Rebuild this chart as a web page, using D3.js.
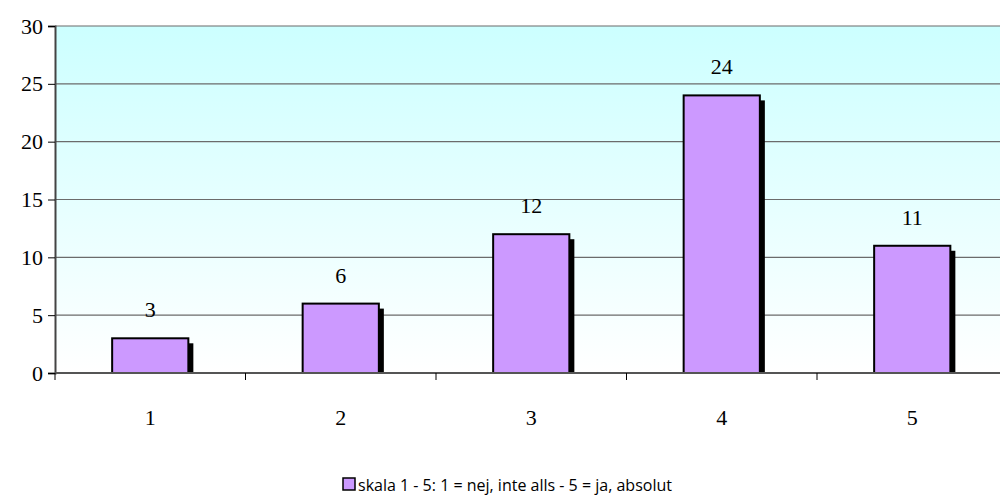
<!DOCTYPE html>
<html>
<head>
<meta charset="utf-8">
<script src="https://cdn.jsdelivr.net/npm/d3@7"></script>
<style>
  body { margin: 0; background: #fff; }
</style>
</head>
<body>
<div id="chart"></div>
<script>
const categories = ["1", "2", "3", "4", "5"];
const values = [3, 6, 12, 24, 11];
const yTicks = [0, 5, 10, 15, 20, 25, 30];
const seriesName = "skala 1 - 5: 1 = nej, inte alls - 5 = ja, absolut";

const width = 1000;
const height = 497;
const margin = { top: 26, right: -7.5, bottom: 124, left: 55 }; // plot runs past the right edge

const serif = "'Liberation Serif', 'DejaVu Serif', 'Times New Roman', serif";

const svg = d3.select("#chart")
  .append("svg")
  .attr("width", width)
  .attr("height", height);

const x = d3.scaleBand()
  .domain(categories)
  .range([margin.left, width - margin.right])
  .paddingInner(0.6)
  .paddingOuter(0.3);

const y = d3.scaleLinear()
  .domain([0, 30])
  .range([height - margin.bottom, margin.top]);

// plot background gradient
const defs = svg.append("defs");
const grad = defs.append("linearGradient")
  .attr("id", "bg")
  .attr("x1", "0%").attr("y1", "0%")
  .attr("x2", "0%").attr("y2", "100%");
grad.append("stop").attr("offset", "0%").attr("stop-color", "#ccffff");
grad.append("stop").attr("offset", "100%").attr("stop-color", "#ffffff");

svg.append("rect")
  .attr("x", margin.left)
  .attr("y", margin.top)
  .attr("width", width - margin.left - margin.right)
  .attr("height", y(0) - margin.top)
  .attr("fill", "url(#bg)");

// gridlines
svg.append("g")
  .selectAll("line")
  .data(yTicks.filter(d => d > 0))
  .enter()
  .append("line")
  .attr("x1", margin.left)
  .attr("x2", width - margin.right)
  .attr("y1", d => y(d))
  .attr("y2", d => y(d))
  .attr("stroke", "#6b6b6b")
  .attr("stroke-width", 1.2);

// shadows
svg.append("g")
  .selectAll("rect")
  .data(values)
  .enter()
  .append("rect")
  .attr("x", (d, i) => x(categories[i]) + 5)
  .attr("y", d => y(d) + 5)
  .attr("width", x.bandwidth())
  .attr("height", d => y(0) - y(d) - 5)
  .attr("fill", "#000");

// bars
svg.append("g")
  .selectAll("rect")
  .data(values)
  .enter()
  .append("rect")
  .attr("x", (d, i) => x(categories[i]))
  .attr("y", d => y(d))
  .attr("width", x.bandwidth())
  .attr("height", d => y(0) - y(d))
  .attr("fill", "#cc99ff")
  .attr("stroke", "#000")
  .attr("stroke-width", 2);

// value labels
svg.append("g")
  .selectAll("text")
  .data(values)
  .enter()
  .append("text")
  .attr("x", (d, i) => x(categories[i]) + x.bandwidth() / 2)
  .attr("y", d => y(d) - 21)
  .attr("text-anchor", "middle")
  .style("font-family", serif)
  .style("font-size", "22px")
  .attr("fill", "#000")
  .text(d => d);

// y axis
const yAxis = svg.append("g")
  .attr("transform", `translate(${margin.left},0)`)
  .call(d3.axisLeft(y).tickValues(yTicks).tickSize(7).tickPadding(5));
yAxis.select(".domain").attr("stroke", "#444").attr("stroke-width", 2);
yAxis.selectAll(".tick line").attr("stroke", "#000");
yAxis.selectAll(".tick text")
  .style("font-family", serif)
  .style("font-size", "22px")
  .attr("fill", "#000");

// x axis with ticks between categories
const xEdges = d3.scaleLinear()
  .domain([0, categories.length])
  .range([margin.left, width - margin.right]);
const xAxis = svg.append("g")
  .attr("transform", `translate(0,${y(0)})`);
xAxis.append("line")
  .attr("x1", margin.left)
  .attr("x2", width - margin.right)
  .attr("stroke", "#555")
  .attr("stroke-width", 2);
xAxis.selectAll(".edge")
  .data(d3.range(categories.length + 1))
  .enter()
  .append("line")
  .attr("class", "edge")
  .attr("x1", d => xEdges(d))
  .attr("x2", d => xEdges(d))
  .attr("y1", 0)
  .attr("y2", 7)
  .attr("stroke", "#000");
xAxis.selectAll("text")
  .data(categories)
  .enter()
  .append("text")
  .attr("x", d => x(d) + x.bandwidth() / 2)
  .attr("y", 52)
  .attr("text-anchor", "middle")
  .style("font-family", serif)
  .style("font-size", "22px")
  .attr("fill", "#000")
  .text(d => d);

// legend
const legend = svg.append("g").attr("transform", "translate(343,478)");
legend.append("rect")
  .attr("width", 12)
  .attr("height", 12)
  .attr("fill", "#cc99ff")
  .attr("stroke", "#000")
  .attr("stroke-width", 1.5);
legend.append("text")
  .attr("x", 15)
  .attr("y", 13)
  .style("font-family", "'Open Sans', 'DejaVu Sans', sans-serif")
  .style("font-size", "16px")
  .attr("fill", "#000")
  .text(seriesName);
</script>
</body>
</html>
